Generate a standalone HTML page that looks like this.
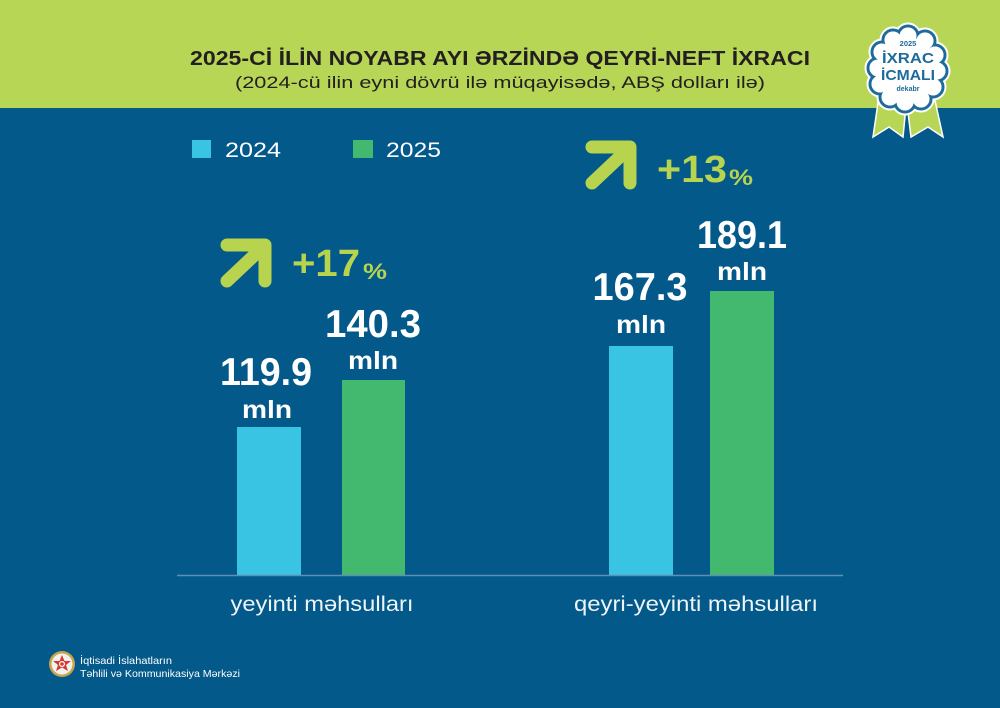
<!DOCTYPE html>
<html>
<head>
<meta charset="utf-8">
<style>
html,body{margin:0;padding:0;background:#03598a;}
svg{display:block;}
text{font-family:"Liberation Sans",sans-serif;}
</style>
</head>
<body>
<svg width="1000" height="708" viewBox="0 0 1000 708" xmlns="http://www.w3.org/2000/svg">
  <!-- backgrounds -->
  <rect x="0" y="0" width="1000" height="708" fill="#03598a"/>
  <rect x="0" y="0" width="1000" height="108" fill="#b8d656"/>

  <!-- title -->
  <text x="500" y="65" text-anchor="middle" font-size="20" font-weight="bold" fill="#231f20" textLength="620" lengthAdjust="spacingAndGlyphs">2025-Cİ İLİN NOYABR AYI ƏRZİNDƏ QEYRİ-NEFT İXRACI</text>
  <text x="500" y="88" text-anchor="middle" font-size="17" fill="#231f20" textLength="530" lengthAdjust="spacingAndGlyphs">(2024-cü ilin eyni dövrü ilə müqayisədə, ABŞ dolları ilə)</text>

  <!-- badge ribbons -->
  <g fill="#b8d656" stroke="#ffffff" stroke-width="1.5" stroke-linejoin="miter">
    <polygon points="879,96 907,96 903,137 889,127 873,137"/>
    <polygon points="906,96 934,96 943,137 928,127 911,137"/>
  </g>
  <!-- badge scalloped -->
  <g>
    <g fill="#ffffff" stroke="#ffffff" stroke-width="7">
      <circle cx="908" cy="36" r="10"/>
      <circle cx="925" cy="41" r="10"/>
      <circle cx="935" cy="55" r="10"/>
      <circle cx="937" cy="71" r="10"/>
      <circle cx="933" cy="87" r="10"/>
      <circle cx="921" cy="99" r="10"/>
      <circle cx="905" cy="102" r="10"/>
      <circle cx="890" cy="97" r="10"/>
      <circle cx="880" cy="84" r="10"/>
      <circle cx="878" cy="68" r="10"/>
      <circle cx="882" cy="52" r="10"/>
      <circle cx="893" cy="40" r="10"/>
      <ellipse cx="908" cy="70" rx="28" ry="32"/>
    </g>
    <g fill="#ffffff" stroke="#1d6b9b" stroke-width="3">
      <circle cx="908" cy="36" r="10"/>
      <circle cx="925" cy="41" r="10"/>
      <circle cx="935" cy="55" r="10"/>
      <circle cx="937" cy="71" r="10"/>
      <circle cx="933" cy="87" r="10"/>
      <circle cx="921" cy="99" r="10"/>
      <circle cx="905" cy="102" r="10"/>
      <circle cx="890" cy="97" r="10"/>
      <circle cx="880" cy="84" r="10"/>
      <circle cx="878" cy="68" r="10"/>
      <circle cx="882" cy="52" r="10"/>
      <circle cx="893" cy="40" r="10"/>
    </g>
    <g fill="#ffffff">
      <circle cx="908" cy="36" r="8.5"/>
      <circle cx="925" cy="41" r="8.5"/>
      <circle cx="935" cy="55" r="8.5"/>
      <circle cx="937" cy="71" r="8.5"/>
      <circle cx="933" cy="87" r="8.5"/>
      <circle cx="921" cy="99" r="8.5"/>
      <circle cx="905" cy="102" r="8.5"/>
      <circle cx="890" cy="97" r="8.5"/>
      <circle cx="880" cy="84" r="8.5"/>
      <circle cx="878" cy="68" r="8.5"/>
      <circle cx="882" cy="52" r="8.5"/>
      <circle cx="893" cy="40" r="8.5"/>
      <ellipse cx="908" cy="70" rx="29" ry="33"/>
    </g>
    <text x="908" y="46" text-anchor="middle" font-size="7.5" font-weight="bold" fill="#1d6b9b">2025</text>
    <text x="908" y="63" text-anchor="middle" font-size="15" font-weight="bold" fill="#1d6b9b" textLength="52" lengthAdjust="spacingAndGlyphs">İXRAC</text>
    <text x="908" y="80" text-anchor="middle" font-size="15" font-weight="bold" fill="#1d6b9b" textLength="54" lengthAdjust="spacingAndGlyphs">İCMALI</text>
    <text x="908" y="91" text-anchor="middle" font-size="7" font-weight="bold" fill="#1d6b9b">dekabr</text>
  </g>

  <!-- legend -->
  <rect x="192" y="140" width="19" height="18" fill="#38c4e2"/>
  <text x="225" y="157" font-size="21" fill="#ffffff" textLength="56" lengthAdjust="spacingAndGlyphs">2024</text>
  <rect x="353" y="140" width="20" height="18" fill="#42b96f"/>
  <text x="386" y="157" font-size="21" fill="#ffffff" textLength="55" lengthAdjust="spacingAndGlyphs">2025</text>

  <!-- arrows -->
  <g stroke="#b8d44e" stroke-width="13" stroke-linecap="round" stroke-linejoin="round" fill="none">
    <path d="M227 245 L265 245 L265 281"/>
    <path d="M227 281 L262 248"/>
    <path d="M592 147 L630 147 L630 183"/>
    <path d="M592 183 L627 150"/>
  </g>
  <text x="292" y="276" font-size="38" font-weight="bold" fill="#b8d44e" textLength="68" lengthAdjust="spacingAndGlyphs">+17</text>
  <text x="363" y="279" font-size="22" font-weight="bold" fill="#b8d44e" textLength="24" lengthAdjust="spacingAndGlyphs">%</text>
  <text x="657" y="182" font-size="38" font-weight="bold" fill="#b8d44e" textLength="70" lengthAdjust="spacingAndGlyphs">+13</text>
  <text x="729" y="185" font-size="22" font-weight="bold" fill="#b8d44e" textLength="24" lengthAdjust="spacingAndGlyphs">%</text>

  <!-- bars -->
  <rect x="237" y="427" width="64" height="148" fill="#38c4e2"/>
  <rect x="342" y="380" width="63" height="195" fill="#42b96f"/>
  <rect x="609" y="346" width="64" height="229" fill="#38c4e2"/>
  <rect x="710" y="291" width="64" height="284" fill="#42b96f"/>

  <!-- baseline -->
  <line x1="177" y1="575.5" x2="843" y2="575.5" stroke="#5f90b3" stroke-width="1.5"/>

  <!-- value labels -->
  <g font-weight="bold" fill="#ffffff" text-anchor="middle">
    <text x="266" y="385" font-size="39" textLength="92" lengthAdjust="spacingAndGlyphs">119.9</text>
    <text x="267" y="418" font-size="25" textLength="50" lengthAdjust="spacingAndGlyphs">mln</text>
    <text x="373" y="337" font-size="39" textLength="96" lengthAdjust="spacingAndGlyphs">140.3</text>
    <text x="373" y="369" font-size="25" textLength="50" lengthAdjust="spacingAndGlyphs">mln</text>
    <text x="640" y="300" font-size="39" textLength="95" lengthAdjust="spacingAndGlyphs">167.3</text>
    <text x="641" y="333" font-size="25" textLength="50" lengthAdjust="spacingAndGlyphs">mln</text>
    <text x="742" y="248" font-size="39" textLength="90" lengthAdjust="spacingAndGlyphs">189.1</text>
    <text x="742" y="280" font-size="25" textLength="50" lengthAdjust="spacingAndGlyphs">mln</text>
  </g>

  <!-- category labels -->
  <text x="322" y="611" text-anchor="middle" font-size="21" fill="#eef4f8" textLength="183" lengthAdjust="spacingAndGlyphs">yeyinti məhsulları</text>
  <text x="696" y="611" text-anchor="middle" font-size="21" fill="#eef4f8" textLength="244" lengthAdjust="spacingAndGlyphs">qeyri-yeyinti məhsulları</text>

  <!-- footer logo -->
  <circle cx="62" cy="664" r="13" fill="#c9a449"/>
  <circle cx="62" cy="664" r="10.5" fill="#f2f2f2"/>
  <polygon points="62,655 64.5,661 71,661 66,665 68,671 62,667.5 56,671 58,665 53,661 59.5,661" fill="#d63a2f"/>
  <circle cx="62" cy="664" r="3" fill="#ffffff"/>
  <circle cx="62" cy="664" r="1.8" fill="#d63a2f"/>
  <text x="80" y="664" font-size="10.5" fill="#ffffff" textLength="92" lengthAdjust="spacingAndGlyphs">İqtisadi İslahatların</text>
  <text x="80" y="677" font-size="10.5" fill="#ffffff" textLength="160" lengthAdjust="spacingAndGlyphs">Təhlili və Kommunikasiya Mərkəzi</text>
</svg>
</body>
</html>
